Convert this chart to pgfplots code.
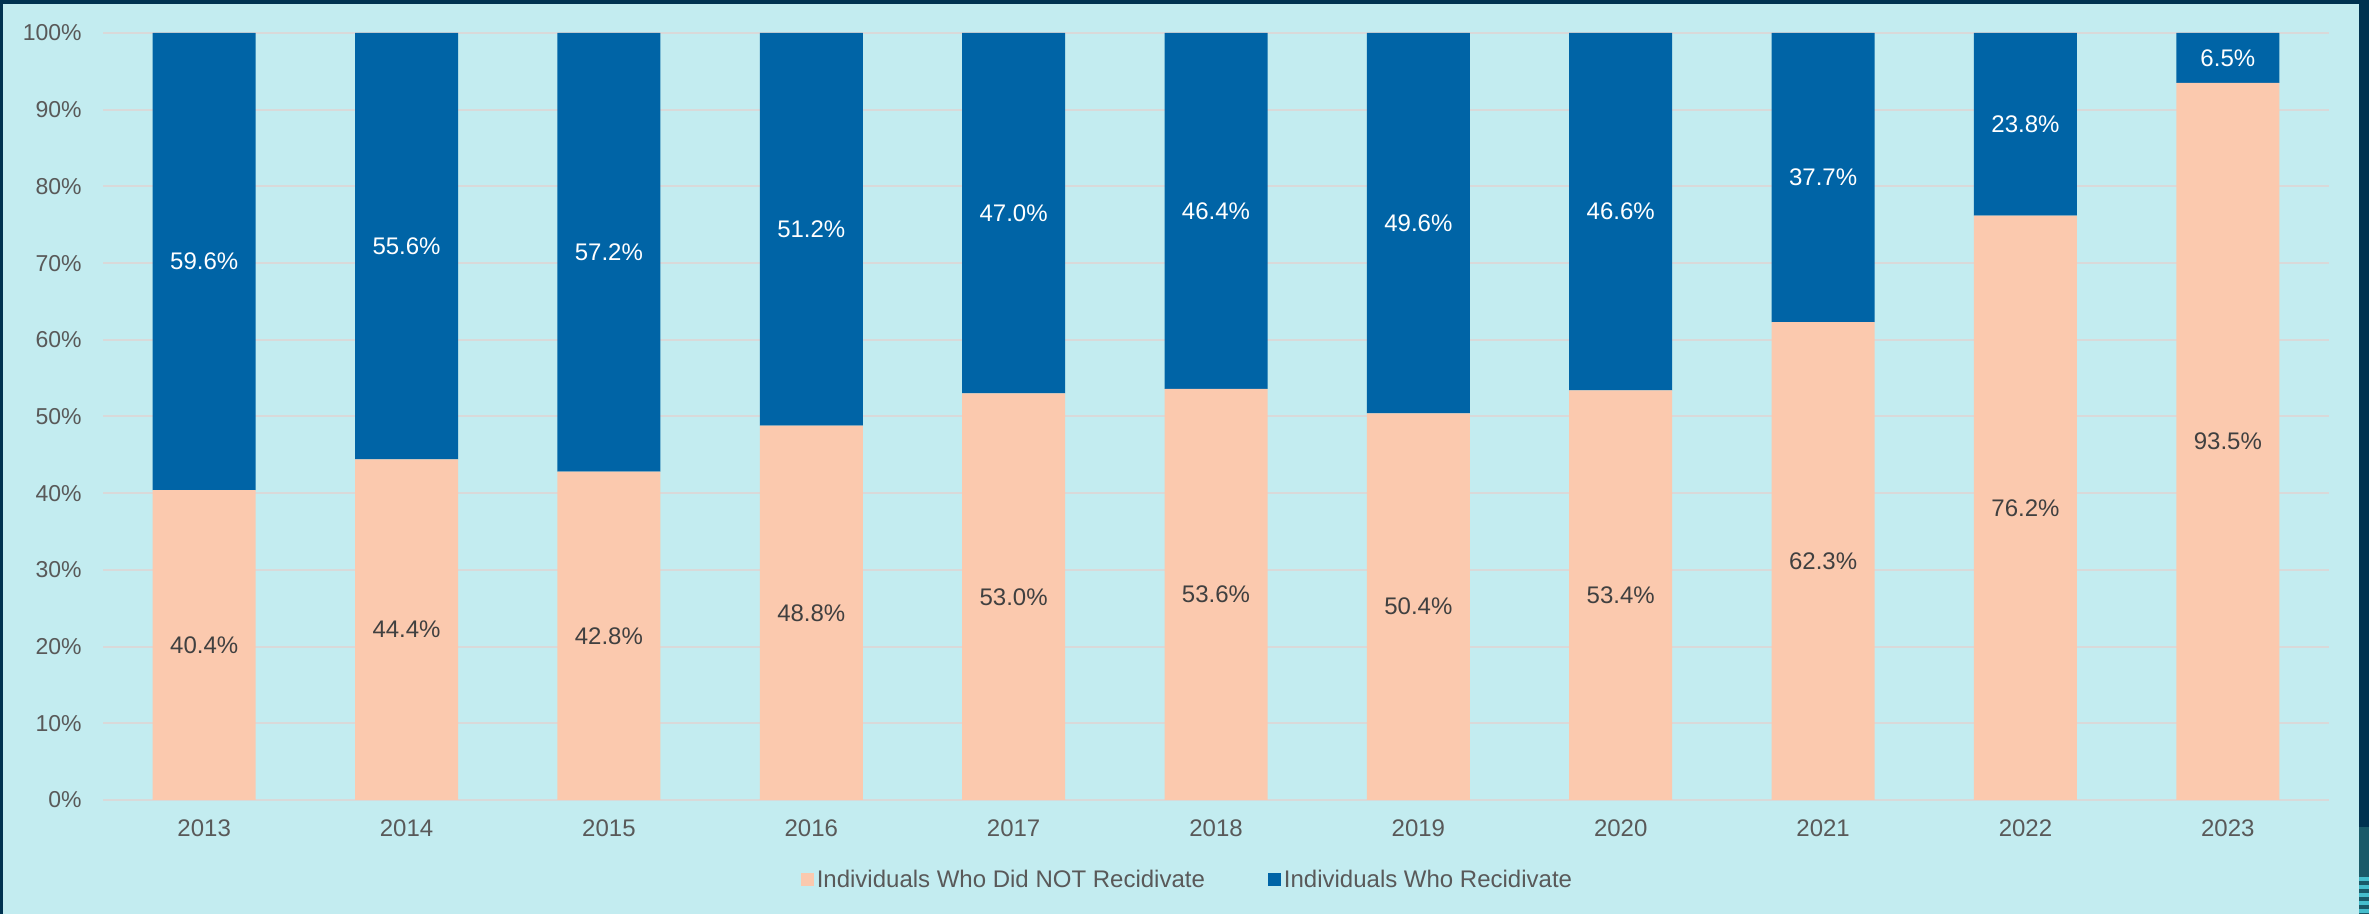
\documentclass[border=0pt]{standalone}
\usepackage{pgfplots}
\usepackage{pgfplotstable}
\pgfplotsset{compat=1.18}
\usepackage{fontspec}
\setmainfont{Liberation Sans}
\definecolor{bgc}{RGB}{195,236,240}
\definecolor{navy}{RGB}{0,50,80}
\definecolor{barblue}{RGB}{0,100,166}
\definecolor{peach}{RGB}{251,201,174}
\definecolor{gridc}{RGB}{217,217,217}
\definecolor{txt}{RGB}{89,89,89}
\definecolor{lbl}{RGB}{64,64,64}
\definecolor{tealD}{RGB}{25,90,105}
\definecolor{tealL}{RGB}{70,190,205}
\pgfplotstableread{
x notrec rec
0 40.4 59.6
1 44.4 55.6
2 42.8 57.2
3 48.8 51.2
4 53.0 47.0
5 53.6 46.4
6 50.4 49.6
7 53.4 46.6
8 62.3 37.7
9 76.2 23.8
10 93.5 6.5
}\datatable
\begin{document}
\begin{tikzpicture}
\fill[bgc] (0,0) rectangle (1184.5pt,457pt);
\fill[navy] (0,455pt) rectangle (1184.5pt,457pt);
\fill[navy] (0,0) rectangle (1.7pt,457pt);
\fill[navy] (1179.5pt,43.5pt) rectangle (1184.5pt,457pt);
\fill[tealD] (1179.5pt,0) rectangle (1184.5pt,43.5pt);
\foreach \i in {0,...,4} {\fill[tealL] (1179.5pt,\i*4pt+0.5pt) rectangle (1184.5pt,\i*4pt+2.5pt);}
\begin{axis}[
  at={(51.5pt,57pt)}, anchor=south west,
  scale only axis, width=1113pt, height=383.5pt,
  ybar stacked, bar width=51.5pt,
  xmin=-0.5, xmax=10.5, ymin=0, ymax=100,
  xtick=data, xticklabels={2013,2014,2015,2016,2017,2018,2019,2020,2021,2022,2023},
  ytick={0,10,...,100},
  yticklabels={0\%,10\%,20\%,30\%,40\%,50\%,60\%,70\%,80\%,90\%,100\%},
  axis line style={draw=none}, major tick length=0pt,
  ymajorgrids, major grid style={gridc, line width=1pt},
  tick label style={font=\fontsize{11.5}{14}\selectfont, text=txt},
  yticklabel style={inner sep=0pt, xshift=-10.5pt},
  xticklabel style={inner sep=0pt, yshift=-9.5pt, font=\fontsize{12}{14}\selectfont},
  visualization depends on={rawy \as \rawy},
  nodes near coords={\pgfmathprintnumber[fixed,fixed zerofill,precision=1,assume math mode=true]{\rawy}\%},
  every node near coord/.append style={anchor=center,
     font=\fontsize{12}{14}\selectfont},
  legend columns=2,
  legend style={at={(0.4874,-0.1043)}, anchor=center, draw=none, fill=none,
    font=\fontsize{12}{14}\selectfont, text=txt,
    /tikz/every even column/.append style={column sep=30pt},
    nodes={inner sep=1.5pt}},
  legend image code/.code={\fill[#1,draw=none] (0pt,-3.25pt) rectangle (6.5pt,3.25pt);},
]
\addplot[fill=peach, draw=none, every node near coord/.append style={text=lbl}] table[x=x,y=notrec] {\datatable};
\addplot[fill=barblue, draw=none, every node near coord/.append style={text=white}] table[x=x,y=rec] {\datatable};
\legend{Individuals Who Did NOT Recidivate, Individuals Who Recidivate}
\end{axis}
\pgfresetboundingbox
\path[use as bounding box] (0,0) rectangle (1184.5pt,457pt);
\end{tikzpicture}
\end{document}
